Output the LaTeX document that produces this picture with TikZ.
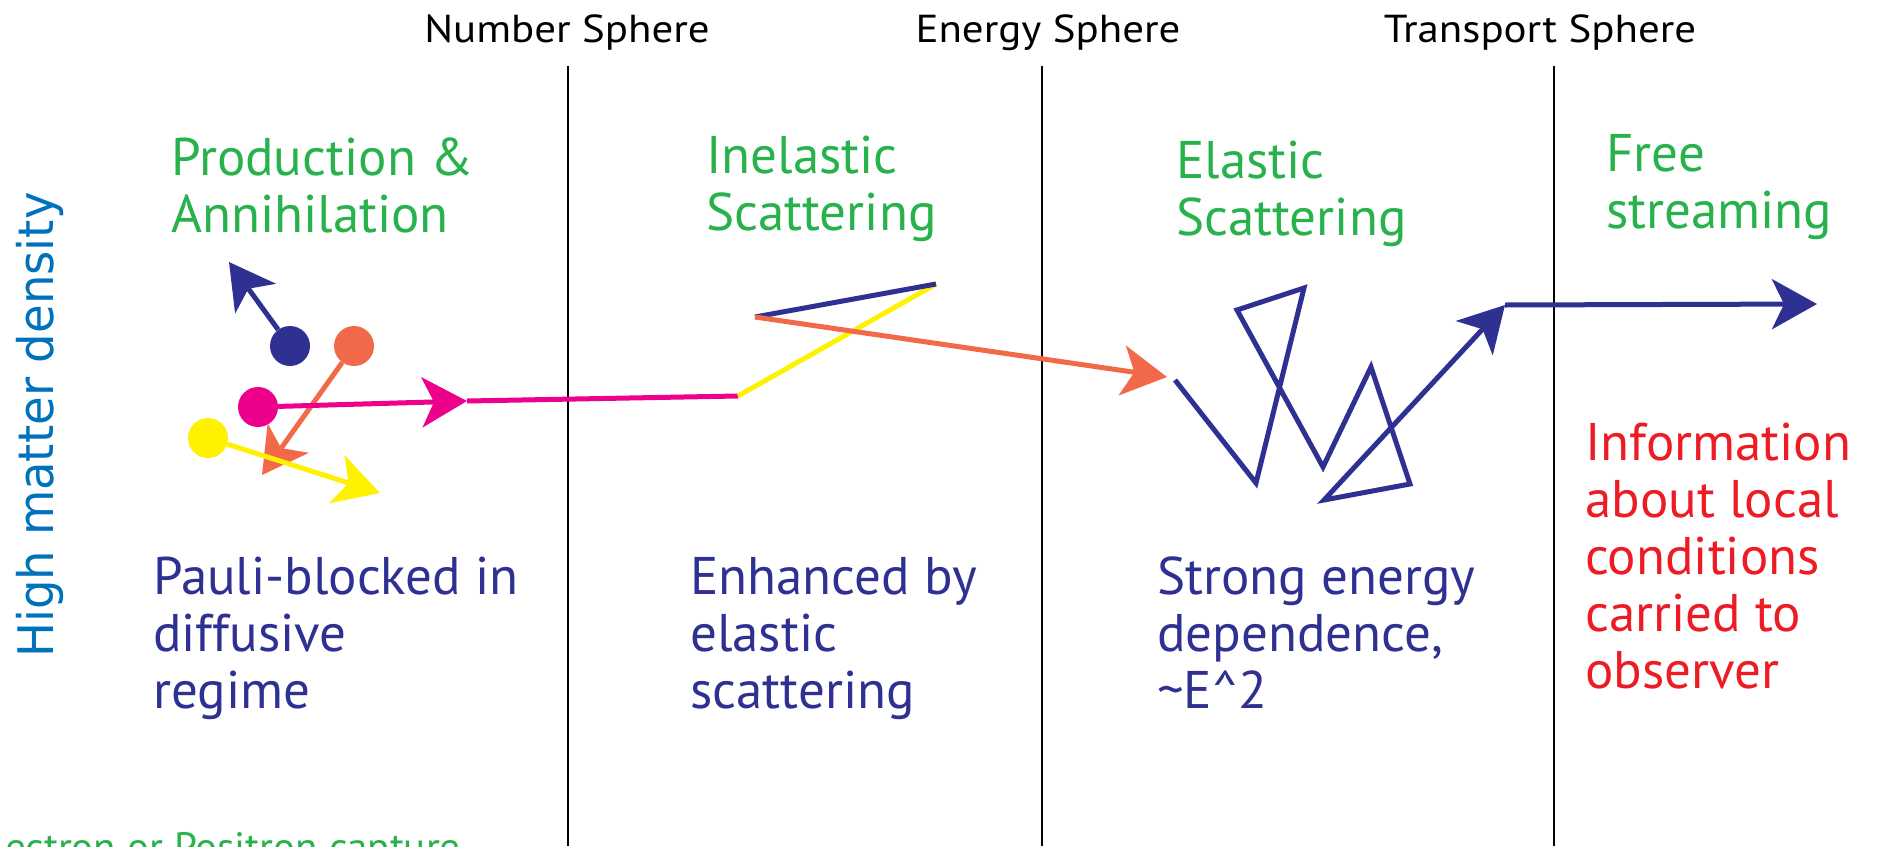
\documentclass[tikz,border=0pt]{standalone}
\usepackage{fontspec}
\setmainfont{PT Sans}
\newfontfamily\axisfont[FakeStretch=0.95]{DejaVu Sans}
\newfontfamily\labelfont[FakeStretch=1.1]{PT Sans}
\usetikzlibrary{arrows.meta}

\definecolor{ngreen}{RGB}{40,178,75}
\definecolor{nblue}{RGB}{46,49,146}
\definecolor{nred}{RGB}{237,28,36}
\definecolor{norange}{RGB}{242,105,74}
\definecolor{nmagenta}{RGB}{236,0,140}
\definecolor{nyellow}{RGB}{255,242,0}
\definecolor{lblue}{RGB}{0,114,188}

\tikzset{
  spherelabel/.style={font=\labelfont\fontsize{39}{41}\selectfont, text=black, inner sep=0pt, anchor=base},
  titletext/.style={font=\fontsize{53}{57}\selectfont, text=ngreen, align=left, inner sep=0pt, anchor=base west},
  notetext/.style={font=\fontsize{53}{57}\selectfont, text=nblue, align=left, inner sep=0pt, anchor=base west},
  divider/.style={line width=2.5pt, draw=black},
  particle/.style={circle, minimum size=40pt, inner sep=0pt, fill=#1},
  ray/.style={line width=5pt, draw=#1},
  tipped/.style={-{Stealth[length=45pt,width=50pt,inset=12pt]}}
}

\begin{document}
\begin{tikzpicture}[x=1pt,y=-1pt]
\useasboundingbox (0,0) rectangle (1879,846);
\clip (0,0) rectangle (1879,846);

% dividers
\coordinate (d1t) at (568,66);  \coordinate (d1b) at (568,846);
\coordinate (d2t) at (1042,66); \coordinate (d2b) at (1042,846);
\coordinate (d3t) at (1554,66); \coordinate (d3b) at (1554,846);
\draw[divider] (d1t) -- (d1b);
\draw[divider] (d2t) -- (d2b);
\draw[divider] (d3t) -- (d3b);

% sphere labels
\node[spherelabel] (ns) at (567,42) {Number Sphere};
\node[spherelabel] (es) at (1048,42) {Energy Sphere};
\node[spherelabel] (ts) at (1540,42) {Transport Sphere};

% titles (anchor at baseline of last line)
\node[titletext] (t1) at (171,232) {Production \&\\Annihilation};
\node[titletext] (t2) at (706,230) {Inelastic\\Scattering};
\node[titletext] (t3) at (1176,235) {Elastic\\Scattering};
\node[titletext] (t4) at (1606,228) {Free\\streaming};

% notes
\node[notetext] (n1) at (153,708) {Pauli-blocked in\\diffusive\\regime};
\node[notetext] (n2) at (690,708) {Enhanced by\\elastic\\scattering};
\node[notetext] (n3) at (1157,708) {Strong energy\\dependence,\\\textasciitilde E\textasciicircum 2};
\node[notetext, text=nred] (n4) at (1585,688) {Information\\about local\\conditions\\carried to\\observer};

% axis label
\node[font=\axisfont\fontsize{49}{50}\selectfont, text=lblue, rotate=90, anchor=base, inner sep=0pt] (ax) at (53,425) {High matter density};

% cut-off bottom text
\node[font=\fontsize{41}{44}\selectfont, text=ngreen, anchor=base east, inner sep=0pt] (cap) at (461,861) {Electron or Positron capture};

% particles
\node[particle=nblue] (bd) at (290,346) {};
\node[particle=norange] (od) at (354,346) {};
\node[particle=nmagenta] (md) at (258,407) {};
\node[particle=nyellow] (yd) at (208,438) {};

\coordinate (bt) at (229,262);
\coordinate (ot) at (262,475);
\coordinate (mt) at (467,401);
\coordinate (yt) at (380,493);
\coordinate (my) at (738,396);
\coordinate (yb) at (936,284);
\coordinate (bo) at (755,317);
\coordinate (oz) at (1167,377);

\coordinate (z0) at (1175,380);
\coordinate (z1) at (1256,483);
\coordinate (z2) at (1304,288);
\coordinate (z3) at (1237,310);
\coordinate (z4) at (1323,467);
\coordinate (z5) at (1371,367);
\coordinate (z6) at (1410,484);
\coordinate (z7) at (1324,500);
\coordinate (zk) at (1505,305);
\coordinate (ze) at (1817,304);

\draw[ray=norange, tipped] (od) -- (ot);
\draw[ray=nblue, tipped] (bd) -- (bt);
\draw[ray=nmagenta, tipped] (md) -- (mt);
\draw[ray=nmagenta] (mt) -- (my);
\draw[ray=nyellow, tipped] (yd) -- (yt);

\draw[ray=nyellow] (my) -- (yb);
\draw[ray=nblue] (yb) -- (bo);
\draw[ray=norange, tipped] (bo) -- (oz);

\draw[ray=nblue, tipped] (z0) -- (z1) -- (z2) -- (z3) -- (z4) -- (z5) -- (z6) -- (z7) -- (zk);
\draw[ray=nblue, tipped] (zk) -- (ze);
\end{tikzpicture}
\end{document}
